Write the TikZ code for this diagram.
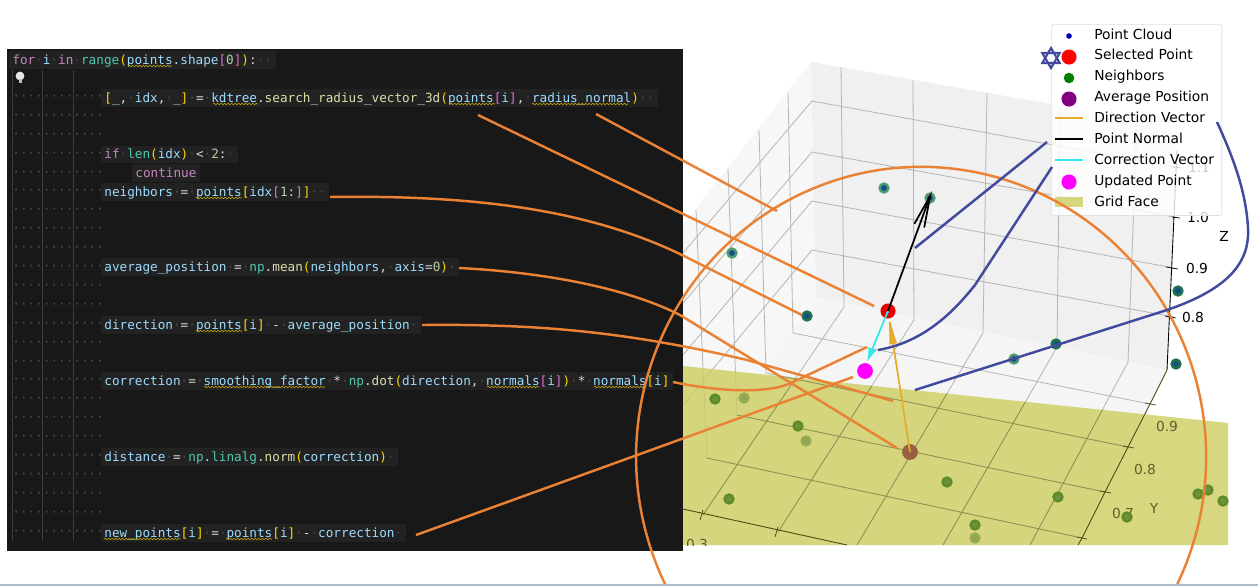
\documentclass[tikz,border=0pt]{standalone}
\usepackage{fontspec}
\usepackage{tikz}
\usetikzlibrary{arrows.meta,decorations.pathmorphing}
\newfontfamily\codefont{DejaVu Sans Mono}
\newfontfamily\plotfont{DejaVu Sans}
\definecolor{panelbg}{HTML}{181818}
\definecolor{rowbg}{HTML}{222222}
\definecolor{dotgray}{HTML}{4A4A4A}
\definecolor{guidegray}{HTML}{3C3C3C}
\definecolor{varblue}{HTML}{9CDCFE}
\definecolor{keypink}{HTML}{C586C0}
\definecolor{fungreen}{HTML}{4EC9B0}
\definecolor{funyellow}{HTML}{DCDCAA}
\definecolor{brackyellow}{HTML}{FFD700}
\definecolor{brackpink}{HTML}{DA70D6}
\definecolor{numgreen}{HTML}{B5CEA8}
\definecolor{plaintxt}{HTML}{D4D4D4}
\definecolor{linkorange}{HTML}{EA8235}
\definecolor{linkblue}{HTML}{414A9C}
\definecolor{faceyellow}{HTML}{CCCD5F}
\definecolor{gridgray}{HTML}{B4B4B4}
\definecolor{gridolive}{HTML}{8C8D55}
\definecolor{axisolive}{HTML}{4A4A10}
\definecolor{labelolive}{HTML}{5F5F28}
\definecolor{vecgold}{HTML}{E6AC2A}
\definecolor{veccyan}{HTML}{33E8E8}
\definecolor{ptred}{HTML}{FF0000}
\definecolor{ptmagenta}{HTML}{FF00FF}
\definecolor{ptbrown}{HTML}{9B5F40}
\definecolor{ptpurple}{HTML}{800080}
\definecolor{ptgreen}{HTML}{008000}
\definecolor{ptblue}{HTML}{0000B0}
\definecolor{ptcore}{HTML}{124F8C}
\definecolor{ringlight}{HTML}{4F9B6E}
\definecolor{ringdark}{HTML}{1E7348}
\definecolor{facering}{HTML}{5E8C24}
\definecolor{facecore}{HTML}{708F40}
\definecolor{faintring}{HTML}{97AB4F}
\definecolor{faintcore}{HTML}{8FA35A}
\definecolor{stripblue}{HTML}{AEBBCB}
\newcommand{\dt}{\textcolor{dotgray}{·}}
\newcommand{\cv}[1]{\textcolor{varblue}{#1}}
\newcommand{\ck}[1]{\textcolor{keypink}{#1}}
\newcommand{\cn}[1]{\textcolor{fungreen}{#1}}
\newcommand{\cf}[1]{\textcolor{funyellow}{#1}}
\newcommand{\cy}[1]{\textcolor{brackyellow}{#1}}
\newcommand{\cp}[1]{\textcolor{brackpink}{#1}}
\newcommand{\floorlines}{%
  \foreach \xa/\ya/\xb/\yb in {793/333/1150/404,766/373/1128/447,737/415/1105/492,707/458/1082/538,
      844/307/703/515,914/320/778/532,983/333/857/545,1057/347/943/545,1128/362/1030/545}{
    \draw (\xa,\ya) -- (\xb,\yb);
  }}
\begin{document}
\begin{tikzpicture}[x=0.02cm, y=-0.02cm,
	codeline/.style={font=\codefont\fontsize{7.22pt}{8pt}\selectfont, text=plaintxt, anchor=west, fill=rowbg, inner xsep=2pt, inner ysep=0.6pt, text height=7pt, text depth=2pt},
	indent dots/.style={font=\codefont\fontsize{7.22pt}{8pt}\selectfont, text=dotgray, anchor=west, inner sep=0pt},
	squiggle/.style={draw=brackyellow!80!black, line width=0.3pt, decorate, decoration={snake, segment length=2pt, amplitude=0.4pt}},
	link/.style={draw=linkorange, line width=1.4pt},
	bluelink/.style={draw=linkblue, line width=1.4pt},
	plot label/.style={font=\plotfont\fontsize{7.85pt}{9pt}\selectfont, inner sep=0pt},
	legend label/.style={plot label, anchor=west, text height=6pt, text depth=0.6pt},
	sample point/.style={circle, inner sep=0pt, minimum size=5pt, line width=1.4pt},
	upper point/.style={sample point, draw=ringlight, fill=ptcore},
	lower point/.style={sample point, draw=ringdark, fill=ptcore},
	face point/.style={sample point, draw=facering, fill=facecore},
	faint point/.style={sample point, draw=faintring, fill=faintcore}]
	\useasboundingbox (0,0) rectangle (1258,586);
	\fill[white] (0,0) rectangle (1258,586);
	\fill[stripblue] (0,584) rectangle (1258,586);
	% panes of the 3d axes
	\fill[black!3] (683,225) -- (811,62) -- (816,297) -- (683,492) -- cycle;
	\fill[black!6] (811,62) -- (1177,126) -- (1167,370) -- (816,297) -- cycle;
	\fill[black!4] (816,297) -- (1167,370) -- (1075,545) -- (683,545) -- (683,492) -- cycle;
	\begin{scope}[draw=gridgray, line width=0.45pt]
		\foreach \xa/\ya/\xb/\yb in {841/67/844/307,913/80/914/320,987/93/983/333,1060/106/1057/347,1137/120/1128/362}{
		  \draw (\xa,\ya) -- (\xb,\yb);
		}
		\foreach \xa/\ya/\xb/\yb in {788/93/793/333,759/130/766/373,728/169/737/415,696/210/707/458}{
		  \draw (\xa,\ya) -- (\xb,\yb);
		}
		\foreach \ya/\yb/\yc in {101/167/253,152/217/303,201/268/355,250/317/405}{
		  \draw (683,\yc) -- (812,\ya) -- (1174,\yb);
		}
		\floorlines
	\end{scope}
	% yellow grid face
	\fill[faceyellow, opacity=0.8] (683,366) -- (1228,423) -- (1228,545) -- (683,545) -- cycle;
	\begin{scope}
		\clip (683,366) -- (1228,423) -- (1228,545) -- (683,545) -- cycle;
		\begin{scope}[draw=gridolive, line width=0.45pt]
		  \floorlines
		\end{scope}
		\node[plot label, text=labelolive] (xlabel) at (697,544) {0.3};
	\end{scope}
	% axes and ticks
	\draw[line width=0.5pt] (1177,150) -- (1167,370);
	\draw[line width=0.5pt, axisolive] (1167,370) -- (1150,404) -- (1128,447) -- (1105,492) -- (1082,538) -- (1078,545);
	\draw[line width=0.5pt, axisolive] (683,509) -- (847,545);
	\foreach \xa/\ya/\xb/\yb in {1173/167/1181/168,1172/217/1180/218,1166/267/1178/269,1165/316/1176/318}{
	  \draw[line width=0.4pt] (\xa,\ya) -- (\xb,\yb);
	}
	\foreach \xa/\ya/\xb/\yb in {1145/403/1156/405,1123/446/1134/448,1100/491/1111/493,1077/537/1087/539,703/510/700/520,778/527/775/537}{
	  \draw[line width=0.4pt, axisolive] (\xa,\ya) -- (\xb,\yb);
	}
	\node[plot label] (zoneone) at (1199,167) {1.1};
	\node[plot label] (zone) at (1198,217) {1.0};
	\node[plot label] (znine) at (1197,268) {0.9};
	\node[plot label] (zeight) at (1193,317) {0.8};
	\node[plot label] (zname) at (1224,236) {Z};
	\node[plot label, text=labelolive] (ynine) at (1167,426) {0.9};
	\node[plot label, text=labelolive] (yeight) at (1145,469) {0.8};
	\node[plot label, text=labelolive] (yseven) at (1123,513) {0.7};
	\node[plot label, text=labelolive] (yname) at (1154,508) {Y};
	% points
	\foreach \x/\y [count=\i] in {884/188,930/198,732/253,1014/359}{
	  \node[upper point] (up\i) at (\x,\y) {};
	}
	\foreach \x/\y [count=\i] in {807/316,1178/291,1176/364,1056/344}{
	  \node[lower point] (dn\i) at (\x,\y) {};
	}
	\foreach \x/\y [count=\i] in {715/399,798/426,729/499,947/482,975/525,1058/497,1127/517,1198/494,1208/490,1223/501}{
	  \node[face point] (fp\i) at (\x,\y) {};
	}
	\foreach \x/\y [count=\i] in {744/398,806/441,975/538}{
	  \node[faint point] (ft\i) at (\x,\y) {};
	}
	\node[circle, fill=ptred!92!black, inner sep=0pt, minimum size=8.6pt] (selected) at (888,311) {};
	\node[circle, fill=ptmagenta, inner sep=0pt, minimum size=9pt] (updated) at (865,371) {};
	\node[circle, fill=ptbrown, inner sep=0pt, minimum size=9pt] (average) at (910,452) {};
	\node[circle, fill=ptpurple!70!white, inner sep=0pt, minimum size=2pt] (selcore) at (888,312) {};
	\coordinate (normaltip) at (932,191);
	\coordinate (corrtip) at (867,362);
	\draw[vecgold, line width=1pt, -{Latex[length=19pt, width=4.5pt]}] (average.center) -- (selected.center);
	\draw[veccyan, line width=1pt, -{Latex[length=8pt, width=5pt]}] (selected.center) -- (corrtip);
	\draw[black, line width=1pt, -{Straight Barb[length=18pt, width=6pt]}] (selected.center) -- (normaltip);
	% legend
	\node[draw=black!12, fill=white, fill opacity=0.8, rounded corners=1.5pt, minimum width=97pt, minimum height=108.8pt, inner sep=0pt, anchor=north west] (legendbox) at (1051,24) {};
	\foreach \txt/\y [count=\i] in {Point Cloud/35,Selected Point/55,Neighbors/76,Average Position/97,Direction Vector/118,Point Normal/139,Correction Vector/160,Updated Point/181,Grid Face/202}{
	  \node[legend label] (entry\i) at (1094,\y) {\txt};
	}
	\node[circle, fill=ptblue, inner sep=0pt, minimum size=3.2pt] (mkcloud) at (1069,36) {};
	\node[circle, fill=ptred, inner sep=0pt, minimum size=8.6pt] (mkselected) at (1069,57) {};
	\node[circle, fill=ptgreen, inner sep=0pt, minimum size=6pt] (mkneighbors) at (1069,78) {};
	\node[circle, fill=ptpurple, inner sep=0pt, minimum size=8.6pt] (mkaverage) at (1069,99) {};
	\node[circle, fill=ptmagenta, inner sep=0pt, minimum size=8.6pt] (mkupdated) at (1069,182) {};
	\draw[vecgold, line width=0.7pt] (1055,118) -- (1083,118);
	\draw[black, line width=0.7pt] (1055,139) -- (1083,139);
	\draw[veccyan, line width=0.7pt] (1055,160) -- (1083,160);
	\fill[faceyellow, opacity=0.8] (1055,197) rectangle (1083,207);
	% code panel
	\fill[panelbg] (7,49) rectangle (683,551);
	\fill[black!90] (50,70) rectangle (683,89);
	\fill[black!90] (88,467) rectangle (111,485);
	\foreach \n in {2,...,25}{
	  \node[indent dots] (dots\n) at (12,60+18.9*\n) {············};
	}
	\foreach \x in {12,42,73}{
	  \draw[guidegray, line width=0.4pt] (\x,70) -- (\x,541);
	}
	\node[codeline] (rowfor) at (8.5,60) {\ck{for}\dt\cv{i}\dt\ck{in}\dt\cn{range}\cy{(}\cv{points.shape}\cp{[}\textcolor{numgreen}{0}\cp{]}\cy{)}:\dt\dt};
	\node[codeline] (rowsearch) at (100.5,98) {\cy{[}\cv{\_},\dt\cv{idx},\dt\cv{\_}\cy{]}\dt=\dt\cv{kdtree}.\cf{search\_radius\_vector\_3d}\cy{(}\cv{points}\cp{[}\cv{i}\cp{]},\dt\cv{radius\_normal}\cy{)}\dt\dt};
	\node[codeline] (rowif) at (100.5,154.5) {\ck{if}\dt\cn{len}\cy{(}\cv{idx}\cy{)}\dt<\dt\textcolor{numgreen}{2}:\dt};
	\node[codeline] (rowcontinue) at (131.5,173) {\ck{continue}};
	\node[codeline] (rowneighbors) at (100.5,192) {\cv{neighbors}\dt=\dt\cv{points}\cy{[}\cv{idx}\cp{[}\textcolor{numgreen}{1}:\cp{]}\cy{]}\dt\dt};
	\node[codeline] (rowaverage) at (100.5,267) {\cv{average\_position}\dt=\dt\cn{np}.\cf{mean}\cy{(}\cv{neighbors},\dt\cv{axis}=\textcolor{numgreen}{0}\cy{)}\dt};
	\node[codeline] (rowdirection) at (100.5,325) {\cv{direction}\dt=\dt\cv{points}\cy{[}\cv{i}\cy{]}\dt-\dt\cv{average\_position}\dt};
	\node[codeline] (rowcorrection) at (100.5,381) {\cv{correction}\dt=\dt\cv{smoothing\_factor}\dt*\dt\cn{np}.\cf{dot}\cy{(}\cv{direction},\dt\cv{normals}\cp{[}\cv{i}\cp{]}\cy{)}\dt*\dt\cv{normals}\cy{[}\cv{i}\cy{]}};
	\node[codeline] (rowdistance) at (100.5,457) {\cv{distance}\dt=\dt\cn{np}.\cn{linalg}.\cf{norm}\cy{(}\cv{correction}\cy{)}\dt};
	\node[codeline] (rownew) at (100.5,533) {\cv{new\_points}\cy{[}\cv{i}\cy{]}\dt=\dt\cv{points}\cy{[}\cv{i}\cy{]}\dt-\dt\cv{correction}\dt};
	\foreach \xa/\xb/\y in {128/172/66,213/258/104,450/495/104,532/628/104,196/242/198,196/242/331,204/325/387,487/539/387,594/646/387,104/180/539,226/272/539}{
	  \path[squiggle] (\xa,\y) -- (\xb,\y);
	}
	% light bulb
	\node[circle, fill=black!10, inner sep=0pt, minimum size=5pt] (bulb) at (20,76) {};
	\fill[black!25] (18.5,79) rectangle (21.5,83);
	% orange connectors
	\coordinate (searcha) at (478,115);
	\coordinate (searchb) at (596,114);
	\coordinate (sela) at (874,306);
	\coordinate (arcend) at (777,211);
	\coordinate (nbstart) at (330,197);
	\coordinate (nbend) at (802,315);
	\coordinate (avstart) at (459,268);
	\coordinate (avend) at (897,448);
	\coordinate (dirstart) at (422,325);
	\coordinate (dirend) at (893,401);
	\coordinate (corstart) at (673,382);
	\coordinate (corend) at (867,347);
	\coordinate (newstart) at (416,535);
	\coordinate (newend) at (853,377);
	\draw[link] (searcha) -- (sela);
	\draw[link] (searchb) -- (arcend);
	\draw[link] (nbstart) .. controls (470,195) and (590,208) .. (690,259) -- (nbend);
	\draw[link] (avstart) .. controls (540,272) and (625,287) .. (680,315) -- (avend);
	\draw[link] (dirstart) .. controls (530,324) and (620,330) .. (747,360) -- (dirend);
	\draw[link] (corstart) .. controls (720,392) and (770,394) .. (793,382) -- (corend);
	\draw[link] (newstart) -- (newend);
	\draw[link] (665,584) arc[start angle=206, end angle=-26, x radius=285, y radius=-290];
	% blue connectors
	\coordinate (bluea) at (915,248);
	\coordinate (blueb) at (1047,142);
	\coordinate (bluec) at (878,350);
	\coordinate (blued) at (1052,167);
	\coordinate (bluee) at (915,390);
	\coordinate (bluef) at (1217,122);
	\draw[bluelink] (bluea) -- (blueb);
	\draw[bluelink] (bluec) .. controls (925,342) and (955,310) .. (975,285) -- (blued);
	\draw[bluelink] (bluee) -- (1167,310) .. controls (1225,290) and (1250,265) .. (1248,228) .. controls (1246,190) and (1232,155) .. (bluef);
	% star next to the selected point
	\draw[linkblue, line width=1.2pt] (1051,48) -- (1059.7,63) -- (1042.3,63) -- cycle;
	\draw[linkblue, line width=1.2pt] (1051,68) -- (1059.7,53) -- (1042.3,53) -- cycle;
\end{tikzpicture}
\end{document}
